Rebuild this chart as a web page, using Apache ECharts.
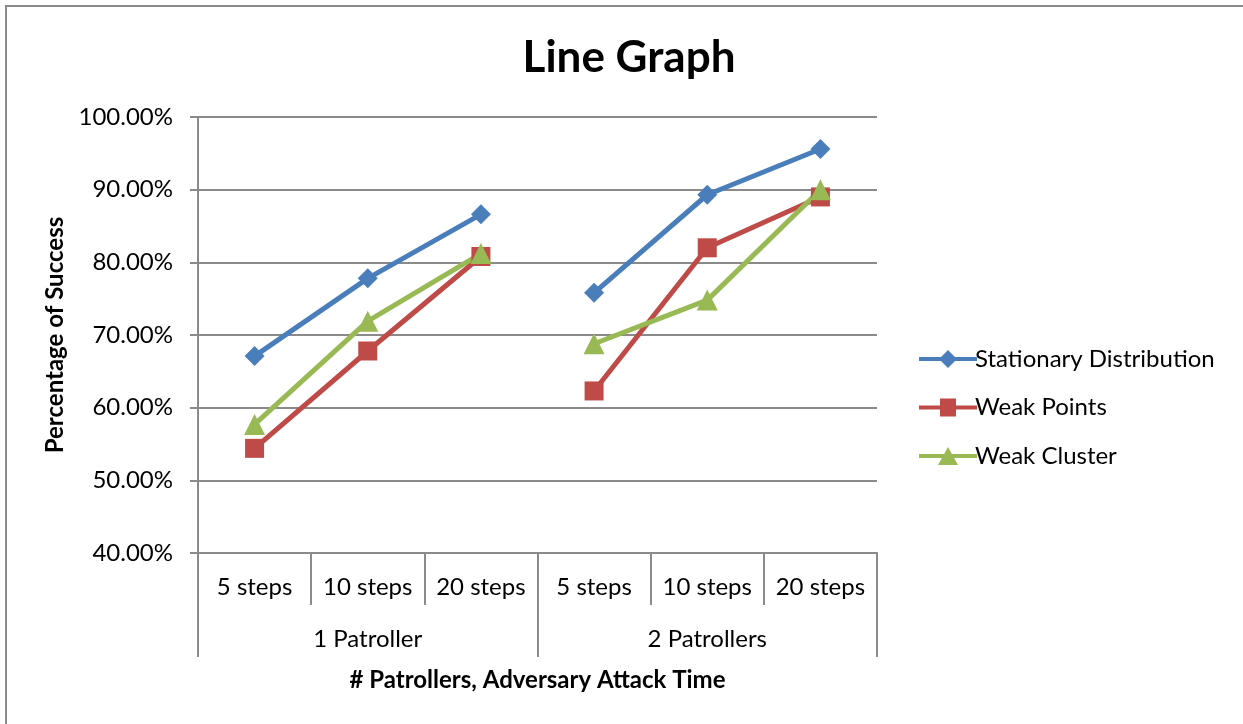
<!DOCTYPE html>
<html>
<head>
<meta charset="utf-8">
<script src="https://cdn.jsdelivr.net/npm/echarts@6/dist/echarts.min.js"></script>
<style>
  html, body { margin: 0; padding: 0; background: #fff; overflow: hidden; }
  #wrap { position: relative; width: 1243px; height: 724px; overflow: hidden; }
  #frame { position: absolute; left: 5px; top: 5px; width: 1400px; height: 900px;
           border-left: 2px solid #8a8a8a; border-top: 2px solid #8a8a8a; pointer-events: none; }
  #main { position: absolute; left: 0; top: 0; width: 1243px; height: 724px; }
</style>
</head>
<body>
<div id="wrap">
  <div id="main"></div>
  <div id="frame"></div>
</div>
<script>
  // categories (two level axis)
  const steps = ['5 steps', '10 steps', '20 steps', '5 steps', '10 steps', '20 steps']
  const groups = ['1 Patroller', '2 Patrollers']
  const yTicks = [40, 50, 60, 70, 80, 90, 100]

  // values (percent)
  const stationary = [67.1, 77.8, 86.6, 75.8, 89.3, 95.6]
  const weakPoints = [54.4, 67.8, 80.8, 62.3, 82.0, 89.0]
  const weakCluster = [57.7, 71.9, 81.2, 68.8, 74.8, 90.0]

  // legend icons: thick line with the marker on it (58 x 18 box)
  const bar = 'M0,7 L58,7 L58,11 L0,11 Z '
  const seriesDefs = [
    { name: 'Stationary Distribution', data: stationary, color: '#4A7EBB', symbol: 'diamond', size: 20,
      icon: 'path://' + bar + 'M20,9 L29,0 L38,9 L29,18 Z' },
    { name: 'Weak Points', data: weakPoints, color: '#BE4B48', symbol: 'rect', size: 19,
      icon: 'path://' + bar + 'M21,0 L37,0 L37,18 L21,18 Z' },
    { name: 'Weak Cluster', data: weakCluster, color: '#98B954', symbol: 'triangle', size: 21,
      icon: 'path://' + bar + 'M19,18 L29,0 L39,18 Z' }
  ]

  const font = 'Lato, "Open Sans", sans-serif'
  const gray = '#8a8a8a'

  // each line is broken between the two patroller groups, so split per group
  const series = []
  seriesDefs.forEach((s) => {
    [0, 1].forEach((g) => {
      series.push({
        name: s.name,
        type: 'line',
        xAxisIndex: 0,
        data: s.data.map((v, i) => (Math.floor(i / 3) === g ? v : '-')),
        symbol: s.symbol,
        symbolSize: s.size,
        itemStyle: { color: s.color },
        lineStyle: { color: s.color, width: 5 },
        connectNulls: false
      })
    })
  })

  const myChart = echarts.init(document.getElementById('main'))
  myChart.setOption({
    animation: false,
    title: {
      text: 'Line Graph',
      left: 624,
      textAlign: 'center',
      top: 31,
      textStyle: { fontFamily: font, fontSize: 44, fontWeight: 'bold', color: '#000' }
    },
    legend: {
      orient: 'vertical',
      left: 914,
      top: 342,
      itemWidth: 58,
      itemHeight: 18,
      itemGap: 24.5,
      data: seriesDefs.map((s) => ({ name: s.name, icon: s.icon })),
      textStyle: { fontFamily: font, fontSize: 24, color: '#000', padding: [0, 0, 0, -7] }
    },
    grid: { left: 198, right: 366, top: 117, bottom: 171 },
    xAxis: [
      {
        type: 'category',
        data: steps,
        boundaryGap: true,
        axisLine: { show: true, lineStyle: { color: gray, width: 2 } },
        axisTick: { show: true, interval: 0, length: 52, lineStyle: { color: gray, width: 2 } },
        axisLabel: { margin: 22, fontFamily: font, fontSize: 24, color: '#000', interval: 0 }
      },
      {
        type: 'category',
        data: groups,
        position: 'bottom',
        boundaryGap: true,
        axisLine: { show: false },
        axisTick: { show: true, interval: 0, length: 104, lineStyle: { color: gray, width: 2 } },
        axisLabel: { margin: 74, fontFamily: font, fontSize: 24, color: '#000' },
        name: '# Patrollers, Adversary Attack Time',
        nameLocation: 'middle',
        nameGap: 115,
        nameTextStyle: { fontFamily: font, fontSize: 24, fontWeight: 'bold', color: '#000' }
      }
    ],
    yAxis: {
      type: 'value',
      min: yTicks[0],
      max: yTicks[yTicks.length - 1],
      interval: 10,
      name: 'Percentage of Success',
      nameLocation: 'middle',
      nameRotate: 90,
      nameGap: 126,
      nameTextStyle: { fontFamily: font, fontSize: 24, fontWeight: 'bold', color: '#000' },
      axisLine: { show: true, lineStyle: { color: gray, width: 2 } },
      axisTick: { show: true, length: 8, lineStyle: { color: gray, width: 2 } },
      axisLabel: {
        margin: 25,
        fontFamily: font,
        fontSize: 24,
        color: '#000',
        formatter: (v) => v.toFixed(2) + '%'
      },
      splitLine: { lineStyle: { color: gray, width: 2 } }
    },
    series: series
  })
</script>
</body>
</html>
